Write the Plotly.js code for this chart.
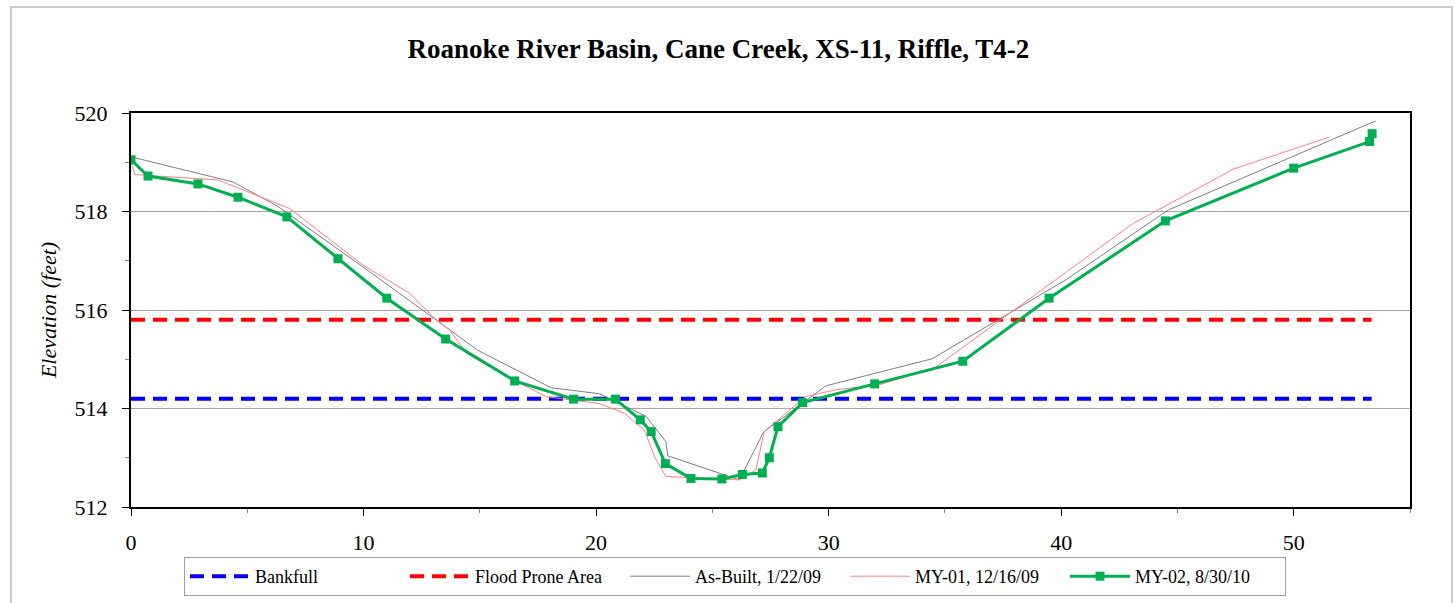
<!DOCTYPE html>
<html>
<head>
<meta charset="utf-8">
<script src="https://cdn.plot.ly/plotly-3.0.1.min.js"></script>
<style>html,body{margin:0;padding:0;background:#fff;}#chart{width:1454px;height:603px;}</style>
</head>
<body>
<div id="chart"></div>
<script>
// Station (ft) and elevation (ft) data
const bankfullX = [0, 53.35];
const bankfullY = [514.2, 514.2];
const floodX = [0, 53.35];
const floodY = [515.8, 515.8];

const asBuiltX = [0, 4.39, 6.33, 10.05, 14.92, 18.07, 20.15, 22.15, 23.0, 23.08, 26.16, 27.2, 29.88, 34.45, 40.19, 44.6, 53.52];
const asBuiltY = [519.11, 518.60, 518.10, 516.85, 515.18, 514.42, 514.30, 513.84, 513.33, 513.04, 512.55, 513.52, 514.46, 515.01, 516.61, 518.03, 519.84];

const my01X = [0, 0.17, 3.75, 6.83, 9.98, 11.98, 13.06, 13.7, 14.42, 16.43, 17.86, 20.15, 21.22, 22.08, 22.51, 23.0, 26.16, 26.87, 27.23, 28.74, 29.0, 30.3, 32.17, 34.6, 39.76, 43.1, 47.4, 51.53];
const my01Y = [519.0, 518.75, 518.64, 518.06, 516.91, 516.34, 515.83, 515.6, 515.12, 514.58, 514.24, 514.10, 513.9, 513.56, 513.02, 512.62, 512.55, 512.75, 513.53, 514.12, 514.24, 514.38, 514.48, 514.84, 516.61, 517.76, 518.86, 519.51];

const my02X = [0, 0.73, 2.88, 4.6, 6.7, 8.9, 11.0, 13.53, 16.5, 19.03, 20.83, 21.9, 22.37, 22.98, 24.08, 25.41, 26.29, 27.15, 27.45, 27.82, 28.88, 31.98, 35.77, 39.48, 44.48, 50.0, 53.26, 53.37];
const my02Y = [519.05, 518.72, 518.56, 518.29, 517.89, 517.04, 516.24, 515.41, 514.56, 514.19, 514.19, 513.77, 513.53, 512.88, 512.58, 512.57, 512.66, 512.69, 513.0, 513.63, 514.12, 514.50, 514.96, 516.24, 517.81, 518.88, 519.42, 519.58];

const names = ['Bankfull', 'Flood Prone Area', 'As-Built, 1/22/09', 'MY-01, 12/16/09', 'MY-02, 8/30/10'];
const chartTitle = 'Roanoke River Basin, Cane Creek, XS-11, Riffle, T4-2';
const yTitle = 'Elevation (feet)';
const xTicks = [0, 10, 20, 30, 40, 50];
const yTicks = [512, 514, 516, 518, 520];

const serif = 'Liberation Serif, Times New Roman, serif';

const traces = [
  {x: bankfullX, y: bankfullY, name: names[0], mode: 'lines', line: {color: '#0000FF', width: 4, dash: '14px,8px'}},
  {x: floodX, y: floodY, name: names[1], mode: 'lines', line: {color: '#FF0000', width: 4, dash: '14px,8px'}},
  {x: asBuiltX, y: asBuiltY, name: names[2], mode: 'lines', line: {color: '#7F7F7F', width: 1}},
  {x: my01X, y: my01Y, name: names[3], mode: 'lines', line: {color: '#FF8080', width: 1}},
  {x: my02X, y: my02Y, name: names[4], mode: 'lines+markers', line: {color: '#00B050', width: 3}, marker: {symbol: 'square', size: 9, color: '#00B050'}}
];

const pl = 131, pr = 1410, pt = 113, pb = 507;
const pw = pr - pl, ph = pb - pt;
const px = v => (v - pl) / pw;
const py = v => (pb - v) / ph;

const layout = {
  width: 1454, height: 603,
  margin: {l: pl, r: 1454 - pr, t: pt, b: 603 - pb, pad: 0, autoexpand: false},
  paper_bgcolor: '#fff', plot_bgcolor: '#fff',
  font: {family: serif, color: '#000', size: 22},
  title: {text: '<b>' + chartTitle + '</b>', x: 0.494, xref: 'container', xanchor: 'center', y: 0.92, yref: 'container', yanchor: 'middle', font: {family: serif, size: 27, color: '#000'}},
  showlegend: true,
  legend: {orientation: 'h', xref: 'container', x: 735 / 1454, xanchor: 'center', yref: 'container', y: 1 - 557 / 603, yanchor: 'top', bordercolor: '#A0A0A0', borderwidth: 1, font: {family: serif, size: 18, color: '#000'}, traceorder: 'normal', itemwidth: 60, entrywidth: 145, entrywidthmode: 'pixels'},
  xaxis: {
    range: [0, 55], tickvals: xTicks, ticks: 'outside', ticklen: 7, tickwidth: 1, tickcolor: '#000',
    showgrid: false, zeroline: false, showline: true, linecolor: '#000', linewidth: 2, mirror: true,
    tickfont: {family: serif, size: 22, color: '#000'}, ticklabelstandoff: 8,
    minor: {dtick: 5, tick0: 0, ticks: 'outside', ticklen: 4, tickcolor: '#888', showgrid: false}
  },
  yaxis: {
    range: [512, 520], tickvals: yTicks, ticks: 'outside', ticklen: 7, tickwidth: 1, tickcolor: '#000',
    showgrid: true, gridcolor: '#A6A6A6', gridwidth: 1, zeroline: false, showline: true, linecolor: '#000', linewidth: 2, mirror: true,
    tickfont: {family: serif, size: 22, color: '#000'}, ticklabelstandoff: 10,
    minor: {dtick: 1, tick0: 512, ticks: 'outside', ticklen: 4, tickcolor: '#888', showgrid: false},
    title: {text: '<i>' + yTitle + '</i>', font: {family: serif, size: 22, color: '#000'}, standoff: 12}
  },
  shapes: [
    {type: 'rect', xref: 'paper', yref: 'paper', x0: px(11), x1: px(1452), y0: py(7), y1: py(615), line: {color: '#BBBBBB', width: 1.5}, fillcolor: 'rgba(0,0,0,0)', layer: 'below'}
  ]
};

Plotly.newPlot('chart', traces, layout, {displayModeBar: false, staticPlot: true});
</script>
</body>
</html>
